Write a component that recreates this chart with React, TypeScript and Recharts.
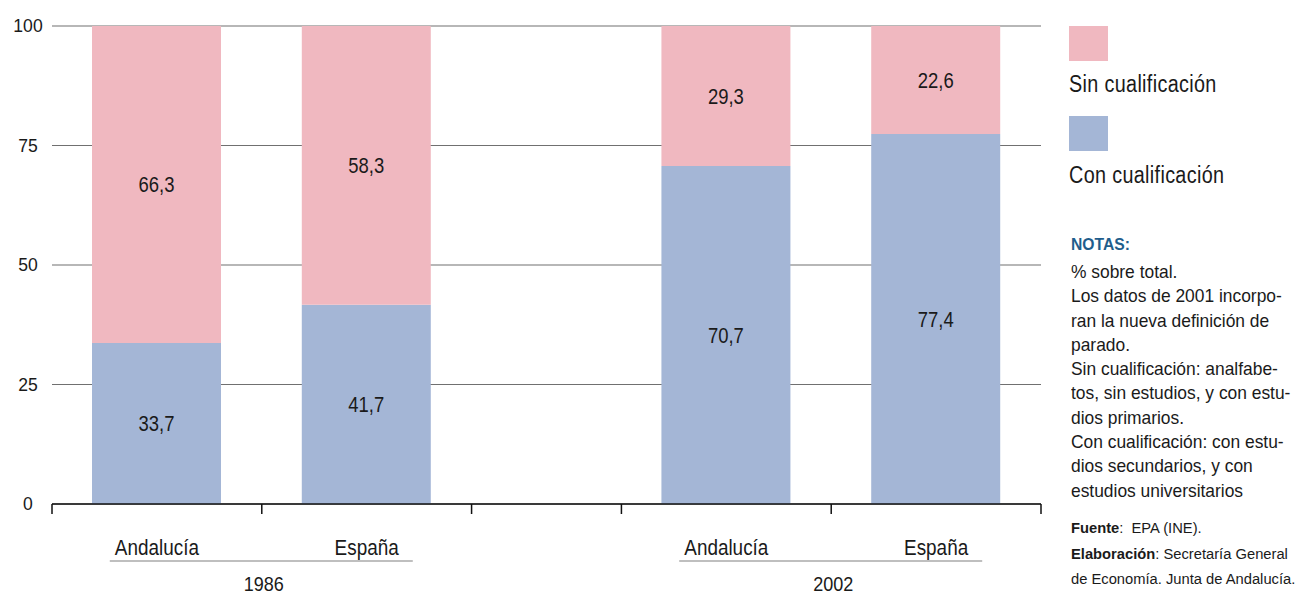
import { BarChart, Bar, XAxis, YAxis, CartesianGrid, LabelList } from "recharts";

const regions = ["Andalucía", "España", "Andalucía", "España"];
const years = ["1986", "2002"];
const conCualificacion = [33.7, 41.7, 70.7, 77.4];
const sinCualificacion = [66.3, 58.3, 29.3, 22.6];
const yTicks = [0, 25, 50, 75, 100];

// x axis is split into slots: two bars, an empty spacer, two bars
const SLOTS = [7, 7, 5, 7, 7];
const BAR_SLOTS = [0, 1, 3, 4];

const bounds = SLOTS.reduce<number[]>((acc, w) => [...acc, acc[acc.length - 1] + w], [0]);
const barCenters = BAR_SLOTS.map((s) => bounds[s] + SLOTS[s] / 2);
const yearCenters = [0, 1].map((g) => (barCenters[g * 2] + barCenters[g * 2 + 1]) / 2);

const data = regions.map((r, i) => ({
  pos: barCenters[i],
  region: r,
  con: conCualificacion[i],
  sin: sinCualificacion[i],
}));

const PINK = "#f0b8c0";
const BLUE = "#a4b6d6";
const FONT = '"Liberation Sans", Arial, sans-serif';
const TEXT = "#1a1a1a";

const fmt = (v: any) => Number(v).toFixed(1).replace(".", ",");

// condensed look: squeeze Liberation Sans horizontally
function Narrow({ x, y, size, squeeze, children }: any) {
  return (
    <text
      transform={`translate(${x} ${y}) scale(${squeeze} 1)`}
      textAnchor="middle"
      dominantBaseline="central"
      fontSize={size}
      fill={TEXT}
      fontFamily={FONT}
    >
      {children}
    </text>
  );
}

function YTick({ y, payload }: any) {
  return (
    <Narrow x={28} y={y} size={18.5} squeeze={0.95}>
      {payload.value}
    </Narrow>
  );
}

function RegionTick({ x, y, payload }: any) {
  const idx = barCenters.indexOf(payload.value);
  return (
    <Narrow x={x} y={y + 33} size={22} squeeze={0.86}>
      {regions[idx]}
    </Narrow>
  );
}

function YearTick({ x, y, payload }: any) {
  const idx = yearCenters.indexOf(payload.value);
  return (
    <g>
      <line x1={x - 152} x2={x + 151} y1={y - 3} y2={y - 3} stroke="#aaa" strokeWidth={1.5} />
      <Narrow x={x + 2} y={y + 19} size={21} squeeze={0.86}>
        {years[idx]}
      </Narrow>
    </g>
  );
}

function ValueLabel({ x, y, width, height, value }: any) {
  return (
    <Narrow x={x + width / 2} y={y + height / 2} size={22} squeeze={0.84}>
      {fmt(value)}
    </Narrow>
  );
}

const squeezed = (s: number): React.CSSProperties => ({
  display: "inline-block",
  transform: `scaleX(${s})`,
  transformOrigin: "left center",
  whiteSpace: "nowrap",
});

const notes = [
  "% sobre total.",
  "Los datos de 2001 incorpo-",
  "ran la nueva definición de",
  "parado.",
  "Sin cualificación: analfabe-",
  "tos, sin estudios, y con estu-",
  "dios primarios.",
  "Con cualificación: con estu-",
  "dios secundarios, y con",
  "estudios universitarios",
];

export default function App() {
  return (
    <div style={{ position: "absolute", left: 0, top: 0, width: 1302, height: 594, background: "#fff", fontFamily: FONT, color: TEXT }}>
      <BarChart width={1302} height={594} data={data} margin={{ top: 26, right: 261, bottom: 0, left: 0 }}>
        <CartesianGrid vertical={false} stroke="#707070" strokeWidth={1.2} />
        <YAxis
          type="number"
          domain={[0, 100]}
          ticks={yTicks}
          width={52}
          axisLine={false}
          tickLine={false}
          tick={<YTick />}
        />
        <XAxis
          xAxisId="main"
          dataKey="pos"
          type="number"
          domain={[0, bounds[bounds.length - 1]]}
          ticks={bounds}
          height={10}
          tickSize={10}
          tick={() => <g />}
          axisLine={{ stroke: "#111", strokeWidth: 1.5 }}
          tickLine={{ stroke: "#111", strokeWidth: 1.5 }}
        />
        <XAxis
          xAxisId="names"
          dataKey="pos"
          type="number"
          domain={[0, bounds[bounds.length - 1]]}
          ticks={barCenters}
          height={50}
          tickSize={0}
          tickMargin={0}
          axisLine={false}
          tickLine={false}
          tick={<RegionTick />}
        />
        <XAxis
          xAxisId="years"
          dataKey="pos"
          type="number"
          domain={[0, bounds[bounds.length - 1]]}
          ticks={yearCenters}
          height={30}
          tickSize={0}
          tickMargin={0}
          axisLine={false}
          tickLine={false}
          tick={<YearTick />}
        />
        <Bar xAxisId="main" dataKey="con" stackId="a" fill={BLUE} barSize={129} isAnimationActive={false}>
          <LabelList dataKey="con" content={<ValueLabel />} />
        </Bar>
        <Bar xAxisId="main" dataKey="sin" stackId="a" fill={PINK} barSize={129} isAnimationActive={false}>
          <LabelList dataKey="sin" content={<ValueLabel />} />
        </Bar>
      </BarChart>

      {/* legend */}
      <div style={{ position: "absolute", left: 1069, top: 26, width: 39, height: 35, background: PINK }} />
      <div style={{ position: "absolute", left: 1069, top: 70, fontSize: 23, lineHeight: "28px", letterSpacing: 0.4 }}>
        <span style={squeezed(0.86)}>Sin cualificación</span>
      </div>
      <div style={{ position: "absolute", left: 1069, top: 116, width: 39, height: 35, background: BLUE }} />
      <div style={{ position: "absolute", left: 1069, top: 161, fontSize: 23, lineHeight: "28px", letterSpacing: 0.4 }}>
        <span style={squeezed(0.86)}>Con cualificación</span>
      </div>

      {/* notes */}
      <div style={{ position: "absolute", left: 1071, top: 234, fontSize: 16.5, fontWeight: 700, color: "#1f5d8c", lineHeight: "20px" }}>
        <span style={squeezed(0.95)}>NOTAS:</span>
      </div>
      <div style={{ position: "absolute", left: 1071, top: 260, fontSize: 18.5, lineHeight: "24.3px" }}>
        {notes.map((line) => (
          <div key={line}>
            <span style={squeezed(0.94)}>{line}</span>
          </div>
        ))}
      </div>
      <div style={{ position: "absolute", left: 1071, top: 515, fontSize: 15.5, lineHeight: "25.5px" }}>
        <div>
          <span style={squeezed(0.95)}>
            <b>Fuente</b>:&nbsp; EPA (INE).
          </span>
        </div>
        <div>
          <span style={squeezed(0.95)}>
            <b>Elaboración</b>: Secretaría General
          </span>
        </div>
        <div>
          <span style={squeezed(0.95)}>de Economía. Junta de Andalucía.</span>
        </div>
      </div>
    </div>
  );
}
